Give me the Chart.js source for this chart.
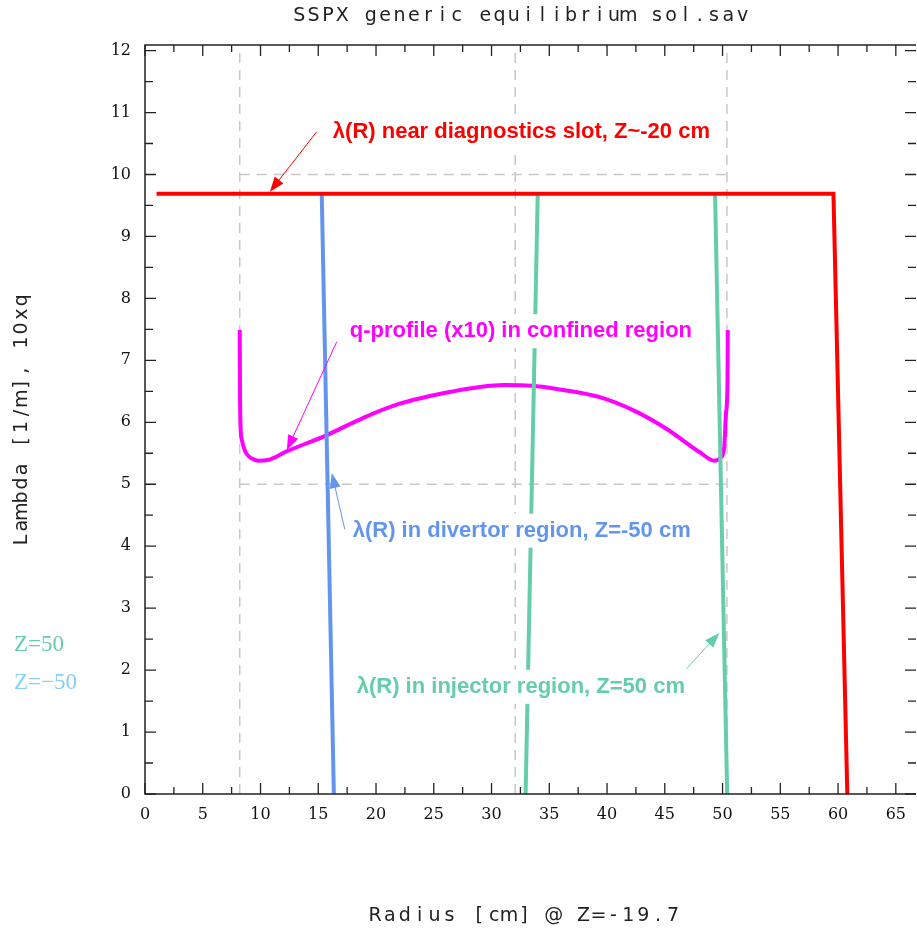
<!DOCTYPE html>
<html>
<head>
<meta charset="utf-8">
<script src="https://cdn.jsdelivr.net/npm/chart.js@4.4.0/dist/chart.umd.min.js"></script>
<style>
  body { margin: 0; background: #fff; }
  canvas { display: block; }
</style>
</head>
<body>
<canvas id="myChart" width="917" height="932"></canvas>
<script>
// tick labels
var xTicks = [0, 5, 10, 15, 20, 25, 30, 35, 40, 45, 50, 55, 60, 65];
var yTicks = [0, 1, 2, 3, 4, 5, 6, 7, 8, 9, 10, 11, 12];

// lambda(R) near diagnostics slot, Z~-20 cm
var redR = [1.0, 59.6, 60.8];
var redL = [9.69, 9.69, 0];
// lambda(R) in divertor region, Z=-50
var blueR = [15.3, 16.35];
var blueL = [9.69, 0];
// lambda(R) in injector region, Z=50 (two branches)
var greenR1 = [34.0, 32.95];
var greenL1 = [9.69, 0];
var greenR2 = [49.35, 50.4];
var greenL2 = [9.69, 0];
// q-profile x10
var qR = [8.2, 8.22, 8.26, 8.4, 8.7, 9.2, 9.8, 10.6, 12.25, 15.7, 19.0, 22.05, 26.4, 29.0, 31.1, 33.5, 35.9, 39.3, 42.2, 45.1, 48.0, 49.3, 49.86, 50.15, 50.3, 50.43, 50.45];
var qL = [7.49, 6.6, 6.0, 5.7, 5.52, 5.42, 5.38, 5.39, 5.53, 5.79, 6.08, 6.3, 6.49, 6.57, 6.6, 6.59, 6.53, 6.41, 6.2, 5.9, 5.52, 5.38, 5.43, 5.61, 6.15, 6.68, 7.49];
// dashed guide box
var guideVx = [8.2, 32.05, 50.38];
var guideY = [0, 12];
var guideHy = [10, 5];
var guideX = [8.2, 50.38];

function pts(xs, ys) {
    return xs.map(function (x, i) { return { x: x, y: ys[i] }; });
}

// first dataset is drawn on top
var datasets = [];
datasets.push({ data: pts(redR, redL), borderColor: '#ff0000', borderWidth: 4, pointRadius: 0, showLine: true });
datasets.push({ data: pts(greenR1, greenL1), borderColor: '#66cdaa', borderWidth: 4, pointRadius: 0, showLine: true });
datasets.push({ data: pts(greenR2, greenL2), borderColor: '#66cdaa', borderWidth: 4, pointRadius: 0, showLine: true });
datasets.push({ data: pts(blueR, blueL), borderColor: '#6495ed', borderWidth: 4, pointRadius: 0, showLine: true });
datasets.push({ data: pts(qR, qL), borderColor: '#ff00ff', borderWidth: 4, pointRadius: 0, showLine: true, cubicInterpolationMode: 'monotone' });
guideVx.forEach(function (gx) {
    datasets.push({ data: pts([gx, gx], guideY), borderColor: '#c8c8c8', borderWidth: 1.5, borderDash: [10, 7], pointRadius: 0, showLine: true });
});
guideHy.forEach(function (gy) {
    datasets.push({ data: pts(guideX, [gy, gy]), borderColor: '#c8c8c8', borderWidth: 1.5, borderDash: [10, 7], pointRadius: 0, showLine: true });
});

// annotations in data coordinates
var notes = [
    { text: 'λ(R) near diagnostics slot, Z~-20 cm', x: 16.26, y: 10.69, color: '#ff0000', tail: [14.87, 10.69], head: [10.81, 9.72] },
    { text: 'q-profile (x10) in confined region', x: 17.73, y: 7.47, color: '#ff00ff', tail: [16.6, 7.3], head: [12.28, 5.55] },
    { text: 'λ(R) in divertor region, Z=-50 cm', x: 17.98, y: 4.25, color: '#6495ed', tail: [17.3, 4.27], head: [16.17, 5.18] },
    { text: 'λ(R) in injector region, Z=50 cm', x: 18.33, y: 1.73, color: '#66cdaa', tail: [46.87, 2.02], head: [49.72, 2.6] }
];

function drawArrow(ctx, x1, y1, x2, y2, color) {
    var a = Math.atan2(y2 - y1, x2 - x1);
    var len = 15, w = 5.5;
    ctx.save();
    ctx.strokeStyle = color;
    ctx.fillStyle = color;
    ctx.lineWidth = 1;
    ctx.beginPath();
    ctx.moveTo(x1, y1);
    ctx.lineTo(x2 - Math.cos(a) * len * 0.8, y2 - Math.sin(a) * len * 0.8);
    ctx.stroke();
    ctx.beginPath();
    ctx.moveTo(x2, y2);
    ctx.lineTo(x2 - Math.cos(a) * len - Math.sin(a) * w, y2 - Math.sin(a) * len + Math.cos(a) * w);
    ctx.lineTo(x2 - Math.cos(a) * len + Math.sin(a) * w, y2 - Math.sin(a) * len - Math.cos(a) * w);
    ctx.closePath();
    ctx.fill();
    ctx.restore();
}

function spaced(ctx, text, cx, cy, adv) {
    var start = cx - adv * text.length / 2 + adv / 2;
    for (var i = 0; i < text.length; i++) {
        ctx.fillText(text[i], start + i * adv, cy);
    }
}

var decor = {
    id: 'decor',
    beforeDraw: function (chart) {
        var ctx = chart.ctx;
        ctx.save();
        ctx.fillStyle = '#fff';
        ctx.fillRect(0, 0, chart.width, chart.height);
        ctx.restore();
    },
    afterDatasetsDraw: function (chart) {
        var ctx = chart.ctx;
        var a = chart.chartArea;
        var xs = chart.scales.x, ys = chart.scales.y;
        ctx.save();
        ctx.setLineDash([]);
        // frame (right edge falls off the picture)
        ctx.strokeStyle = '#222';
        ctx.lineWidth = 1.5;
        ctx.beginPath();
        ctx.moveTo(a.right, a.top);
        ctx.lineTo(a.left, a.top);
        ctx.lineTo(a.left, a.bottom);
        ctx.lineTo(a.right, a.bottom);
        ctx.stroke();
        // ticks
        ctx.lineWidth = 1.3;
        ctx.beginPath();
        for (var v = 0; v <= 66.75; v += 2.5) {
            var px = xs.getPixelForValue(v);
            var L = (v % 5 === 0) ? 11 : 7;
            ctx.moveTo(px, a.bottom); ctx.lineTo(px, a.bottom - L);
            ctx.moveTo(px, a.top); ctx.lineTo(px, a.top + L);
        }
        for (var w = 0; w <= 12.05; w += 0.5) {
            var py = ys.getPixelForValue(w);
            var L2 = (w % 1 === 0) ? 11 : 8;
            ctx.moveTo(a.left, py); ctx.lineTo(a.left + L2, py);
            ctx.moveTo(a.right, py); ctx.lineTo(a.right - L2, py);
        }
        ctx.stroke();

        // annotations: white box, text, arrow
        ctx.font = 'bold 22px "Liberation Sans", Arial, sans-serif';
        ctx.textBaseline = 'middle';
        ctx.textAlign = 'left';
        notes.forEach(function (n) {
            var tx = xs.getPixelForValue(n.x), ty = ys.getPixelForValue(n.y);
            var tw = ctx.measureText(n.text).width;
            ctx.fillStyle = '#fff';
            ctx.fillRect(tx - 4, ty - 17, tw + 8, 34);
            ctx.fillStyle = n.color;
            ctx.fillText(n.text, tx, ty);
            drawArrow(ctx, xs.getPixelForValue(n.tail[0]), ys.getPixelForValue(n.tail[1]),
                xs.getPixelForValue(n.head[0]), ys.getPixelForValue(n.head[1]), n.color);
        });

        // titles
        ctx.fillStyle = '#222';
        ctx.textAlign = 'center';
        ctx.font = '19px "DejaVu Sans", sans-serif';
        spaced(ctx, 'SSPX generic equilibrium sol.sav', 521, 16, 14.3);
        spaced(ctx, 'Radius [cm] @ Z=-19.7', 524, 916, 14.9);
        ctx.save();
        ctx.translate(22, 420);
        ctx.rotate(-Math.PI / 2);
        spaced(ctx, 'Lambda [1/m], 10xq', 0, 0, 14.1);
        ctx.restore();

        // side legend
        ctx.textAlign = 'left';
        ctx.font = '23px "Liberation Serif", "DejaVu Serif", serif';
        ctx.fillStyle = '#66cdaa';
        ctx.fillText('Z=50', 14, 645);
        ctx.fillStyle = '#87cefa';
        ctx.fillText('Z=\u221250', 14, 683);
        ctx.restore();
    }
};

var ctx = document.getElementById('myChart').getContext('2d');
var myChart = new Chart(ctx, {
    type: 'scatter',
    data: { datasets: datasets },
    options: {
        responsive: false,
        animation: false,
        layout: { padding: { top: 45, right: 0, left: 0, bottom: 0 } },
        plugins: { legend: { display: false }, tooltip: { enabled: false } },
        scales: {
            x: {
                type: 'linear',
                min: 0,
                max: 66.75,
                grid: { display: false, drawTicks: false },
                border: { display: false },
                afterBuildTicks: function (scale) {
                    scale.ticks = xTicks.map(function (v) { return { value: v }; });
                },
                afterFit: function (scale) { scale.height = 138; },
                ticks: {
                    color: '#111',
                    padding: 11,
                    maxRotation: 0,
                    autoSkip: false,
                    font: { family: '"DejaVu Serif", serif', size: 16 }
                }
            },
            y: {
                type: 'linear',
                min: 0,
                max: 12.09,
                grid: { display: false, drawTicks: false },
                border: { display: false },
                afterBuildTicks: function (scale) {
                    scale.ticks = yTicks.map(function (v) { return { value: v }; });
                },
                afterFit: function (scale) { scale.width = 145; },
                ticks: {
                    color: '#111',
                    padding: 14,
                    autoSkip: false,
                    font: { family: '"DejaVu Serif", serif', size: 16 }
                }
            }
        }
    },
    plugins: [decor]
});
</script>
</body>
</html>
